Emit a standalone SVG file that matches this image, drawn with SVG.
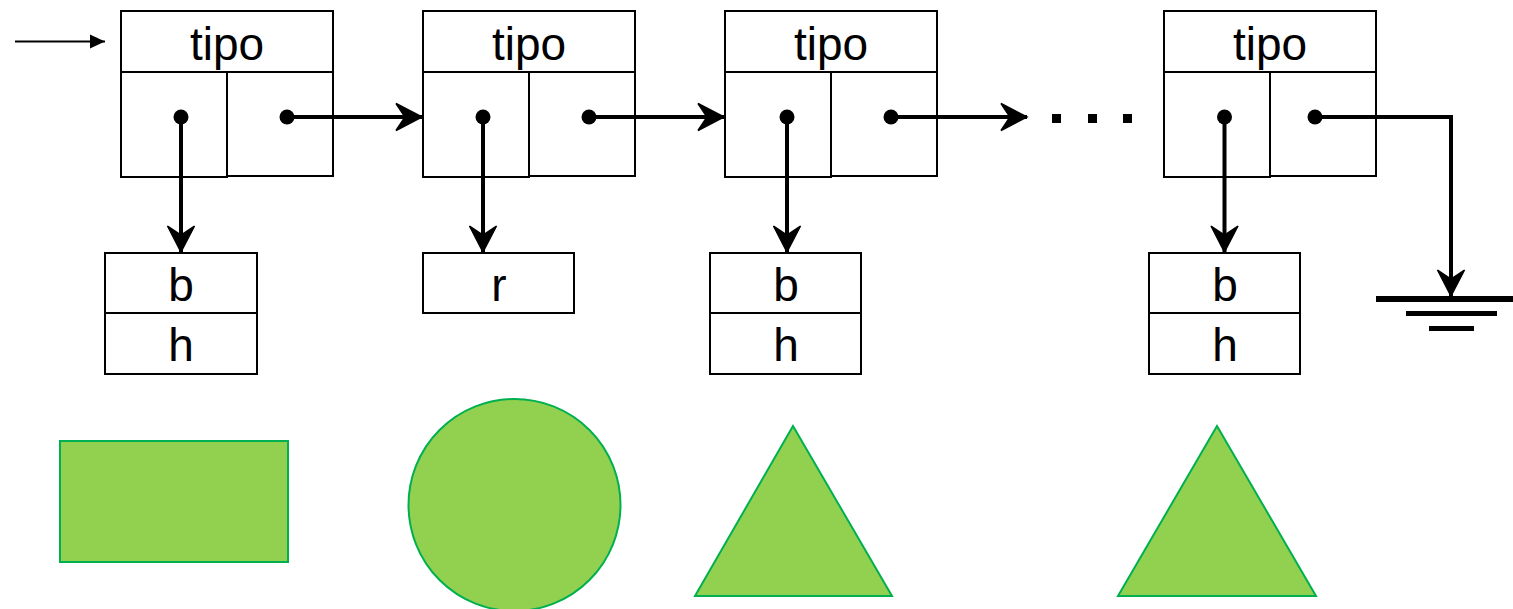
<svg xmlns="http://www.w3.org/2000/svg" width="1513" height="609" viewBox="0 0 1513 609">
  <style>
    .box { fill: #ffffff; stroke: #000000; stroke-width: 2; }
    .lbl { font-family: "Liberation Sans", Arial, sans-serif; font-size: 46px; fill: #000000; text-anchor: middle; }
    .link { fill: none; stroke: #000000; stroke-width: 4; }
    .dot { fill: #000000; }
    .shape { fill: #92D050; stroke: #00B050; stroke-width: 2; }
  </style>
  <defs>
    <!-- notched arrowhead for the pointer links -->
    <marker id="head" markerUnits="userSpaceOnUse" markerWidth="32" markerHeight="32" refX="28" refY="16" orient="auto" overflow="visible">
      <path d="M28,16 L2,2.5 L11,16 L2,29.5 Z" fill="#000" stroke="#000" stroke-width="1.5" stroke-linejoin="miter"/>
    </marker>
    <marker id="solid" markerUnits="userSpaceOnUse" markerWidth="16" markerHeight="16" refX="15" refY="8" orient="auto" overflow="visible">
      <path d="M0,1 L15,8 L0,15 Z" fill="#000"/>
    </marker>
  </defs>

  <!-- list cells -->
  <g id="cell1">
    <rect class="box" x="121" y="11" width="212" height="61"/>
    <rect class="box" x="121" y="72" width="106" height="105"/>
    <rect class="box" x="227" y="72" width="106" height="104"/>
    <text class="lbl" x="227" y="60">tipo</text>
  </g>
  <g id="cell2">
    <rect class="box" x="423" y="11" width="212" height="61"/>
    <rect class="box" x="423" y="72" width="106" height="105"/>
    <rect class="box" x="529" y="72" width="106" height="104"/>
    <text class="lbl" x="529" y="60">tipo</text>
  </g>
  <g id="cell3">
    <rect class="box" x="725" y="11" width="212" height="61"/>
    <rect class="box" x="725" y="72" width="106" height="105"/>
    <rect class="box" x="831" y="72" width="106" height="104"/>
    <text class="lbl" x="831" y="60">tipo</text>
  </g>
  <g id="cell4">
    <rect class="box" x="1164" y="11" width="212" height="61"/>
    <rect class="box" x="1164" y="72" width="106" height="105"/>
    <rect class="box" x="1270" y="72" width="106" height="104"/>
    <text class="lbl" x="1270" y="60">tipo</text>
  </g>

  <!-- data records -->
  <g id="rect-data">
    <rect class="box" x="105" y="253" width="152" height="60"/>
    <rect class="box" x="105" y="313" width="152" height="61"/>
    <text class="lbl" x="181" y="301">b</text>
    <text class="lbl" x="181" y="361">h</text>
  </g>
  <g id="circle-data">
    <rect class="box" x="423" y="253" width="151" height="60"/>
    <text class="lbl" x="499" y="301">r</text>
  </g>
  <g id="tri-data1">
    <rect class="box" x="710" y="253" width="151" height="60"/>
    <rect class="box" x="710" y="313" width="151" height="61"/>
    <text class="lbl" x="786" y="301">b</text>
    <text class="lbl" x="786" y="361">h</text>
  </g>
  <g id="tri-data2">
    <rect class="box" x="1149" y="253" width="151" height="60"/>
    <rect class="box" x="1149" y="313" width="151" height="61"/>
    <text class="lbl" x="1225" y="301">b</text>
    <text class="lbl" x="1225" y="361">h</text>
  </g>

  <!-- ellipsis -->
  <g id="ellipsis">
    <rect x="1052" y="114" width="9" height="9" fill="#000"/>
    <rect x="1088" y="114" width="9" height="9" fill="#000"/>
    <rect x="1123" y="114" width="9" height="9" fill="#000"/>
  </g>

  <!-- ground -->
  <g id="ground">
    <rect x="1376" y="296" width="137" height="6" fill="#000"/>
    <rect x="1406" y="311" width="91" height="5" fill="#000"/>
    <rect x="1429" y="326" width="45" height="5" fill="#000"/>
  </g>

  <!-- shapes -->
  <g id="rectangle"><rect class="shape" x="60" y="441" width="228" height="121"/></g>
  <g id="circle"><circle class="shape" cx="514.5" cy="505" r="106"/></g>
  <g id="triangle1"><polygon class="shape" points="793,426 892,596 695,596"/></g>
  <g id="triangle2"><polygon class="shape" points="1217,426 1316,596 1118,596"/></g>

  <!-- connectors -->
  <g id="connectors">
    <line x1="15" y1="41.5" x2="105" y2="41.5" stroke="#000" stroke-width="2" marker-end="url(#solid)"/>
    <line class="link" x1="287" y1="117" x2="422" y2="117" marker-end="url(#head)"/>
    <line class="link" x1="589" y1="117" x2="724" y2="117" marker-end="url(#head)"/>
    <line class="link" x1="891" y1="117" x2="1027" y2="117" marker-end="url(#head)"/>
    <line class="link" x1="181" y1="117" x2="181" y2="252" marker-end="url(#head)"/>
    <line class="link" x1="483" y1="117" x2="483" y2="252" marker-end="url(#head)"/>
    <line class="link" x1="787" y1="117" x2="787" y2="252" marker-end="url(#head)"/>
    <line class="link" x1="1224.5" y1="117" x2="1224.5" y2="252" marker-end="url(#head)"/>
    <polyline class="link" points="1315,117 1451,117 1451,296" marker-end="url(#head)"/>
    <circle class="dot" cx="181" cy="117" r="7.5"/>
    <circle class="dot" cx="287" cy="117" r="7.5"/>
    <circle class="dot" cx="483" cy="117" r="7.5"/>
    <circle class="dot" cx="589" cy="117" r="7.5"/>
    <circle class="dot" cx="787" cy="117" r="7.5"/>
    <circle class="dot" cx="891" cy="117" r="7.5"/>
    <circle class="dot" cx="1224.5" cy="117" r="7.5"/>
    <circle class="dot" cx="1315" cy="117" r="7.5"/>
  </g>
</svg>
